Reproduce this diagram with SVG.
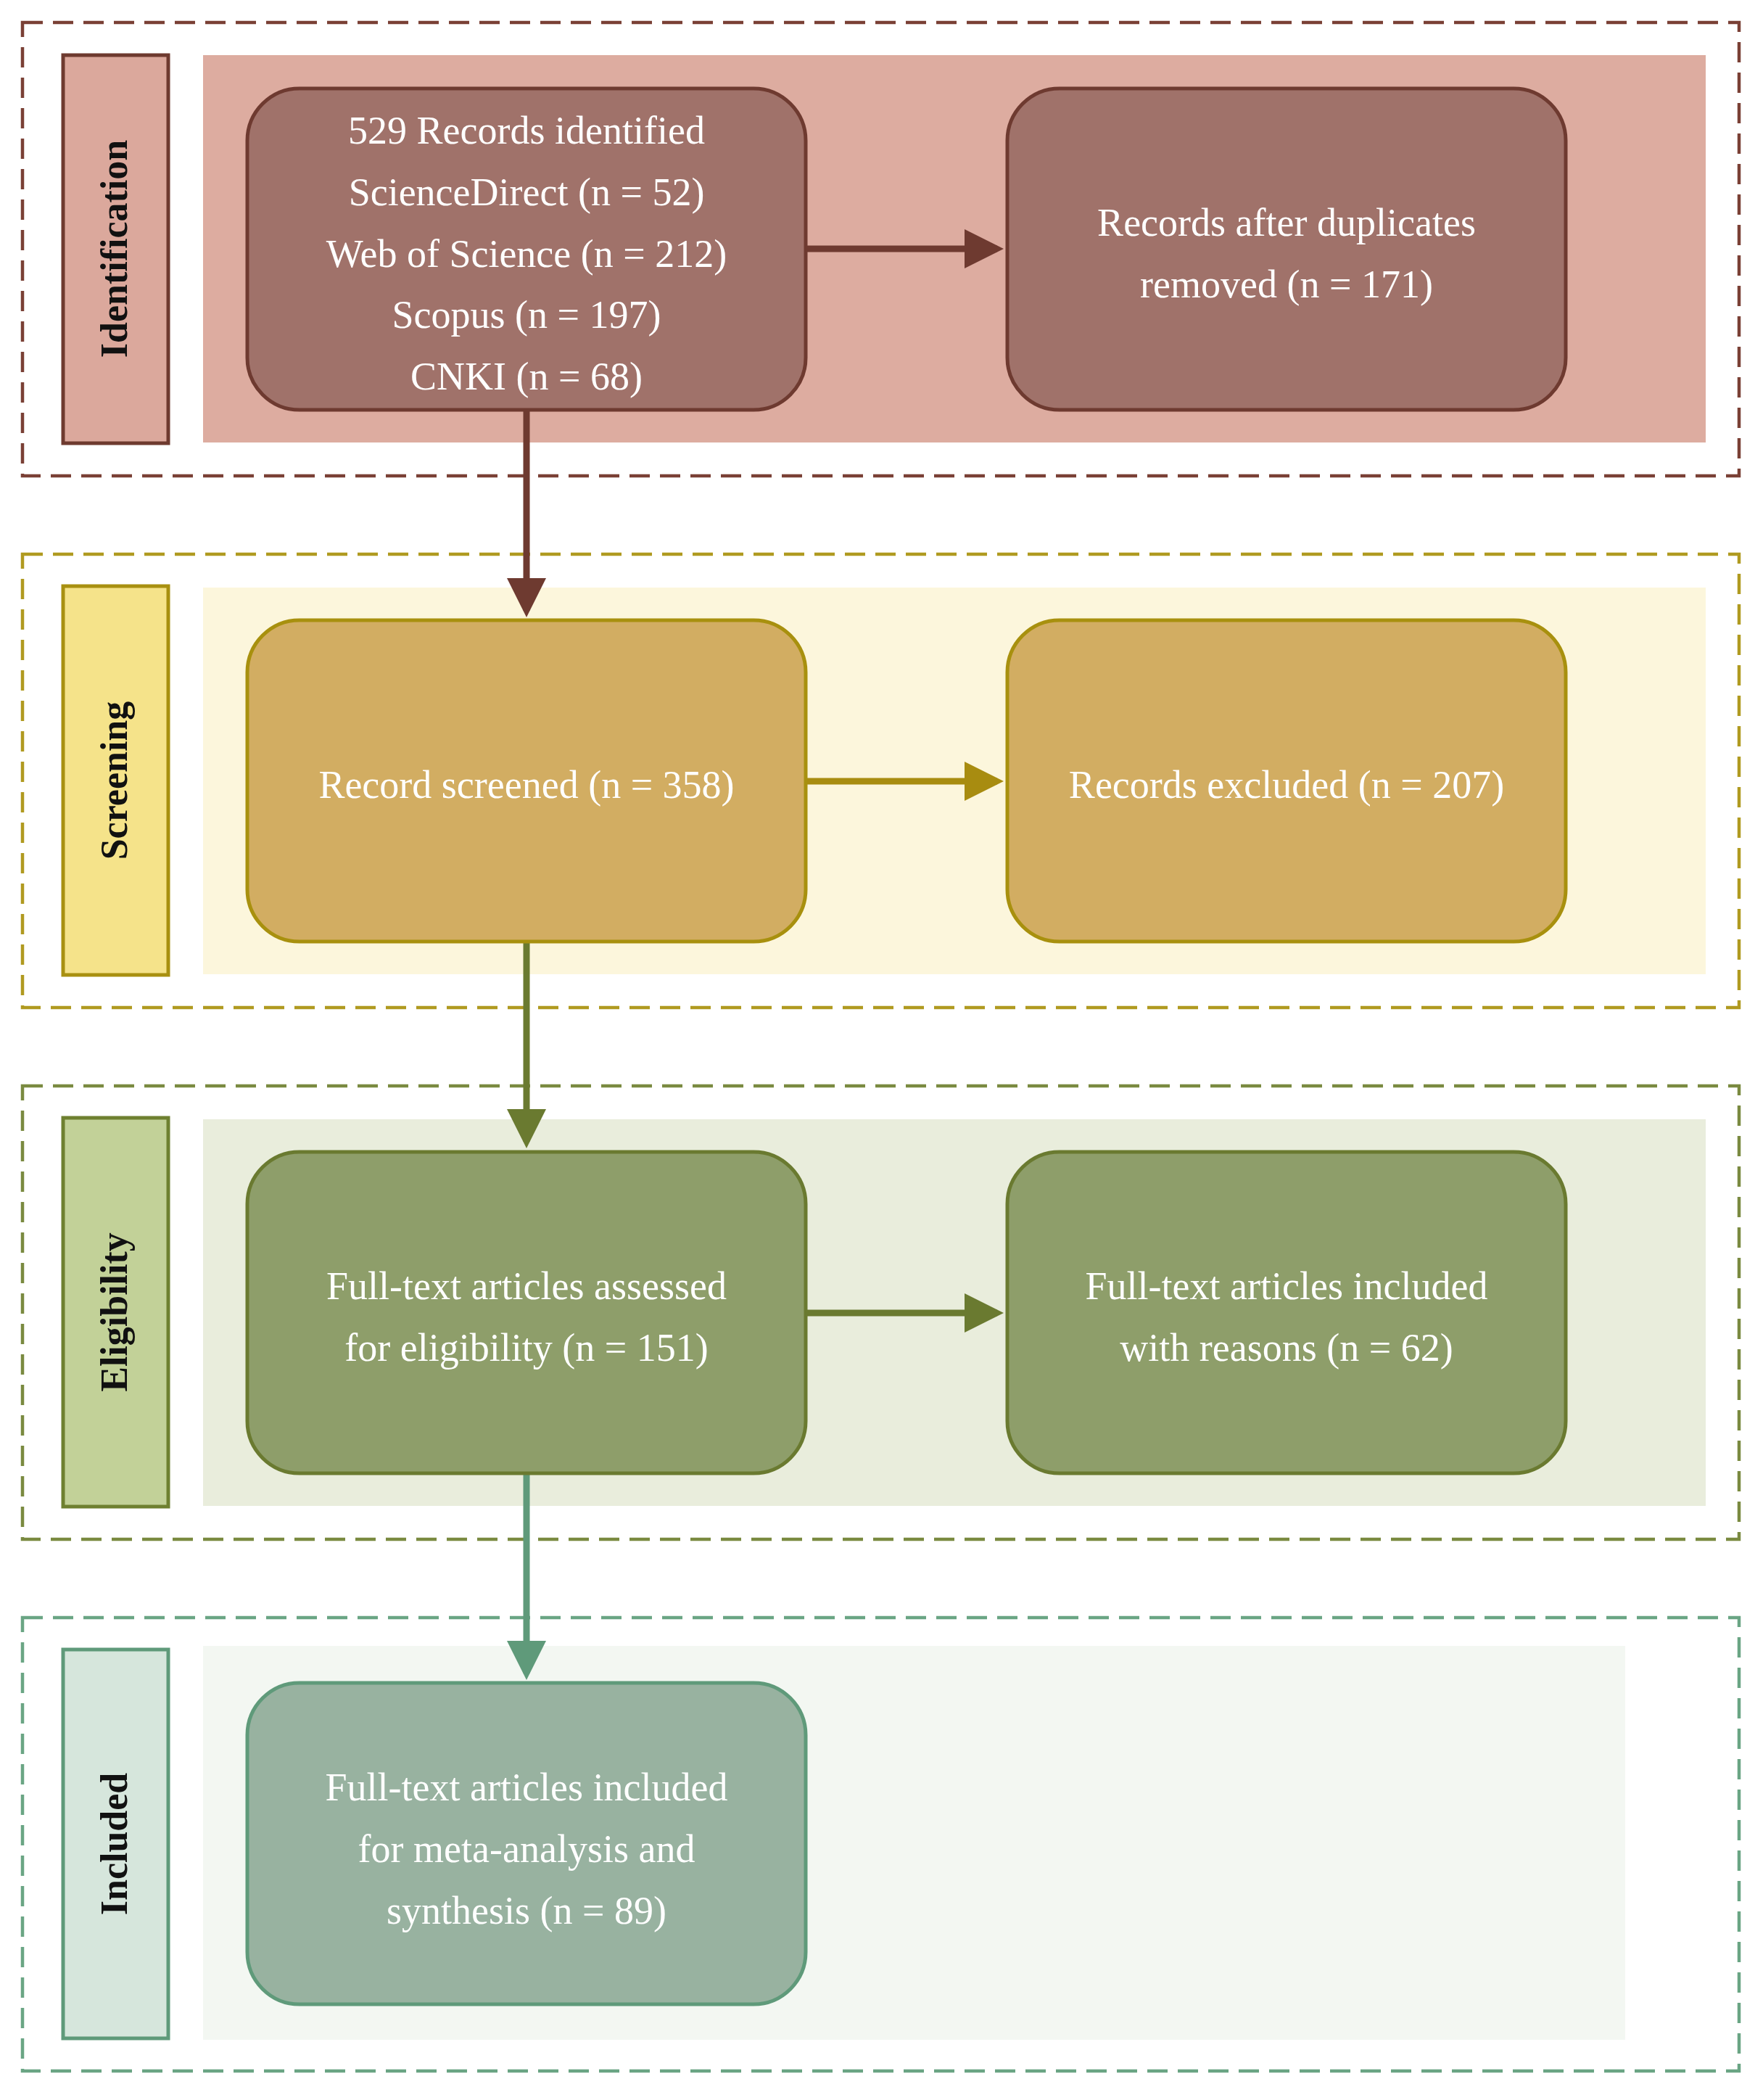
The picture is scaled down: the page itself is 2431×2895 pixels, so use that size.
<svg xmlns="http://www.w3.org/2000/svg" width="2431" height="2895" viewBox="0 0 2431 2895">
<style>
.t{font-family:"Liberation Serif","DejaVu Serif",serif;font-size:54px;fill:#fff;text-anchor:middle}
.l{font-family:"Liberation Serif","DejaVu Serif",serif;font-size:52px;font-weight:bold;fill:#111;text-anchor:middle}
.d{fill:none;stroke-width:4.5;stroke-dasharray:28 14}
.n{stroke-width:5}
</style>
<defs>
<marker id="a1" markerWidth="6" markerHeight="6" refX="5" refY="3" orient="auto" markerUnits="strokeWidth"><path d="M0,0L6,3L0,6z" fill="#6e3a30"/></marker>
<marker id="a2" markerWidth="6" markerHeight="6" refX="5" refY="3" orient="auto" markerUnits="strokeWidth"><path d="M0,0L6,3L0,6z" fill="#a88c10"/></marker>
<marker id="a3" markerWidth="6" markerHeight="6" refX="5" refY="3" orient="auto" markerUnits="strokeWidth"><path d="M0,0L6,3L0,6z" fill="#6a7a30"/></marker>
<marker id="a4" markerWidth="6" markerHeight="6" refX="5" refY="3" orient="auto" markerUnits="strokeWidth"><path d="M0,0L6,3L0,6z" fill="#5f9a7a"/></marker>
</defs>
<rect width="2431" height="2895" fill="#fff"/>
<g id="sec1">
<rect x="31" y="31" width="2367" height="625" class="d" stroke="#7a4035"/>
<rect x="280" y="76" width="2072" height="534" fill="#ddaca0"/>
<rect x="87" y="76" width="145" height="535" fill="#dba89c" stroke="#6e3a2f" stroke-width="5"/>
<text class="l" transform="translate(175,343) rotate(-90)">Identification</text>
</g>
<g id="sec2">
<rect x="31" y="764" width="2367" height="625" class="d" stroke="#b09a20"/>
<rect x="280" y="810" width="2072" height="533" fill="#fcf6dc"/>
<rect x="87" y="808" width="145" height="536" fill="#f5e38a" stroke="#a89010" stroke-width="5"/>
<text class="l" transform="translate(175,1076) rotate(-90)">Screening</text>
</g>
<g id="sec3">
<rect x="31" y="1497" width="2367" height="625" class="d" stroke="#7a8a40"/>
<rect x="280" y="1543" width="2072" height="533" fill="#e9eddc"/>
<rect x="87" y="1541" width="145" height="536" fill="#c2d198" stroke="#6e8030" stroke-width="5"/>
<text class="l" transform="translate(175,1809) rotate(-90)">Eligibility</text>
</g>
<g id="sec4">
<rect x="31" y="2230" width="2367" height="625" class="d" stroke="#6aa584"/>
<rect x="280" y="2269" width="1961" height="543" fill="#f3f7f2"/>
<rect x="87" y="2274" width="145" height="536" fill="#d6e6dc" stroke="#5f9a7a" stroke-width="5"/>
<text class="l" transform="translate(175,2542) rotate(-90)">Included</text>
</g>
<g id="connectors" stroke-width="9" fill="none">
<line x1="1111" y1="343" x2="1375" y2="343" stroke="#6e3a30" marker-end="url(#a1)"/>
<line x1="726" y1="565" x2="726" y2="842" stroke="#6e3a30" marker-end="url(#a1)"/>
<line x1="1111" y1="1077" x2="1375" y2="1077" stroke="#a88c10" marker-end="url(#a2)"/>
<line x1="726" y1="1298" x2="726" y2="1574" stroke="#6a7a30" marker-end="url(#a3)"/>
<line x1="1111" y1="1810" x2="1375" y2="1810" stroke="#6a7a30" marker-end="url(#a3)"/>
<line x1="726" y1="2031" x2="726" y2="2307" stroke="#5f9a7a" marker-end="url(#a4)"/>
</g>
<g id="n1"><rect x="341" y="122" width="770" height="443" rx="72" fill="#a0726a" stroke="#6e3a30" class="n"/>
<text class="t" x="726" y="198">529 Records identified</text><text class="t" x="726" y="283">ScienceDirect (n = 52)</text><text class="t" x="726" y="368">Web of Science (n = 212)</text><text class="t" x="726" y="452">Scopus (n = 197)</text><text class="t" x="726" y="537">CNKI (n = 68)</text></g>
<g id="n2"><rect x="1389" y="122" width="770" height="443" rx="72" fill="#a0726a" stroke="#6e3a30" class="n"/>
<text class="t" x="1774" y="325">Records after duplicates</text><text class="t" x="1774" y="410">removed (n = 171)</text></g>
<g id="n3"><rect x="341" y="855" width="770" height="443" rx="72" fill="#d2ad62" stroke="#a8900e" class="n"/>
<text class="t" x="726" y="1100">Record screened (n = 358)</text></g>
<g id="n4"><rect x="1389" y="855" width="770" height="443" rx="72" fill="#d2ad62" stroke="#a8900e" class="n"/>
<text class="t" x="1774" y="1100">Records excluded (n = 207)</text></g>
<g id="n5"><rect x="341" y="1588" width="770" height="443" rx="72" fill="#8e9e6a" stroke="#6a7a30" class="n"/>
<text class="t" x="726" y="1791">Full-text articles assessed</text><text class="t" x="726" y="1876">for eligibility (n = 151)</text></g>
<g id="n6"><rect x="1389" y="1588" width="770" height="443" rx="72" fill="#8e9e6a" stroke="#6a7a30" class="n"/>
<text class="t" x="1774" y="1791">Full-text articles included</text><text class="t" x="1774" y="1876">with reasons (n = 62)</text></g>
<g id="n7"><rect x="341" y="2320" width="770" height="443" rx="72" fill="#98b2a0" stroke="#5f9a7a" class="n"/>
<text class="t" x="726" y="2482">Full-text articles included</text><text class="t" x="726" y="2567">for meta-analysis and</text><text class="t" x="726" y="2652">synthesis (n = 89)</text></g>
</svg>
